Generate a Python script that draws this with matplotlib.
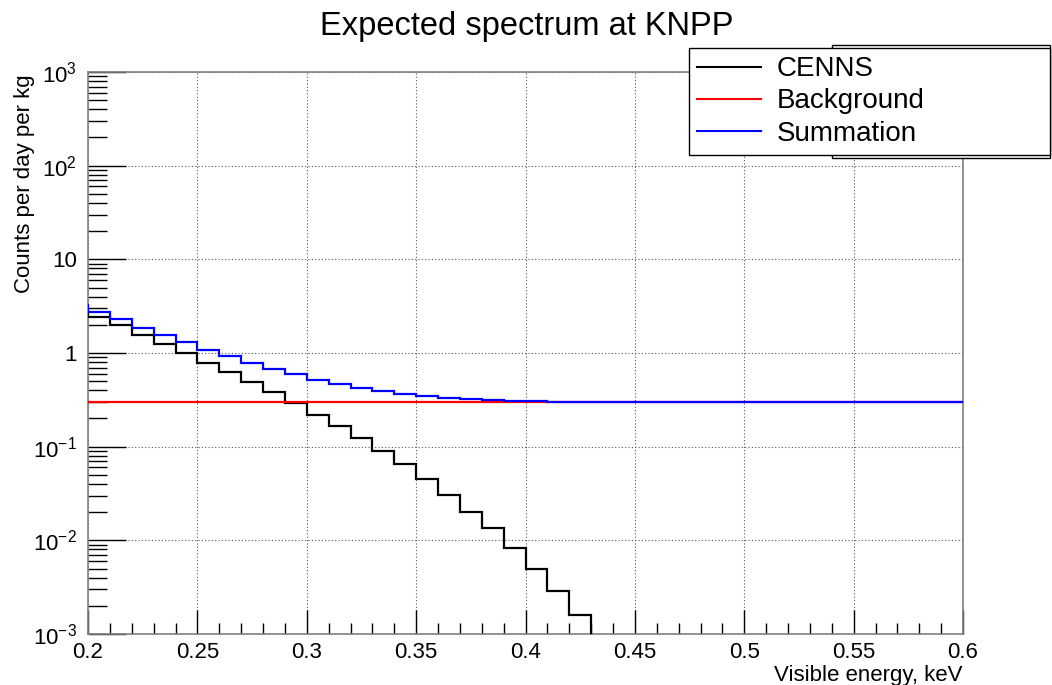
import numpy as np
import matplotlib
matplotlib.use("Agg")
import matplotlib.pyplot as plt
from matplotlib.patches import Rectangle
from matplotlib.ticker import FixedLocator, NullFormatter, FixedFormatter

plt.rcParams['font.family'] = ['Liberation Sans', 'DejaVu Sans']
plt.rcParams['mathtext.fontset'] = 'custom'
plt.rcParams['mathtext.rm'] = 'Liberation Sans'
plt.rcParams['mathtext.it'] = 'Liberation Sans'

# Data (bin edges in keV, width 0.01; first bin 0.19-0.20 lies outside the view)
bin_low = 0.19
bin_width = 0.01
cenns = [2.95, 2.44, 1.98, 1.57, 1.26, 1.00, 0.776, 0.622, 0.486, 0.38, 0.29,
         0.22, 0.165, 0.125, 0.09, 0.065, 0.0449, 0.0305, 0.0202, 0.0134, 0.00836,
         0.005, 0.0029, 0.0016, 0.0009, 0.0005, 0.0003, 0.00017, 0.0001, 6e-5,
         3e-5, 2e-5, 1e-5, 6e-6, 3e-6, 2e-6, 1e-6, 6e-7, 3e-7, 2e-7, 1e-7, 6e-8]
background_level = 0.3

labels = ["CENNS", "Background", "Summation"]
title = "Expected spectrum at KNPP"
xlabel = "Visible energy, keV"
ylabel = "Counts per day per kg"

cenns = np.array(cenns)
edges = bin_low + bin_width * np.arange(len(cenns) + 1)
background = np.full(len(cenns), background_level)
summation = cenns + background

fig = plt.figure(figsize=(10.52, 6.85), dpi=100)
ax = fig.add_axes([88/1052, 1-634/685, (963-88)/1052, (634-72)/685])

ax.stairs(cenns, edges, baseline=None, color='black', lw=1.6, label=labels[0], zorder=3)
ax.stairs(background, edges, baseline=None, color='#ff0000', lw=1.6, label=labels[1], zorder=3)
ax.stairs(summation, edges, baseline=None, color='#0000ff', lw=1.6, label=labels[2], zorder=4)

ax.set_yscale('log')
ax.set_xlim(0.2, 0.6)
ax.set_ylim(1e-3, 1e3)

# x ticks
xmaj = [0.2, 0.25, 0.3, 0.35, 0.4, 0.45, 0.5, 0.55, 0.6]
ax.xaxis.set_major_locator(FixedLocator(xmaj))
ax.xaxis.set_major_formatter(FixedFormatter(["0.2", "0.25", "0.3", "0.35", "0.4", "0.45", "0.5", "0.55", "0.6"]))
ax.xaxis.set_minor_locator(FixedLocator(np.round(np.arange(0.2, 0.6001, 0.01), 3)))
# y ticks
ymaj = [1e-3, 1e-2, 1e-1, 1, 10, 1e2, 1e3]
ax.yaxis.set_major_locator(FixedLocator(ymaj))
ax.yaxis.set_major_formatter(FixedFormatter([r"$10^{-3}$", r"$10^{-2}$", r"$10^{-1}$", "1", "10", r"$10^{2}$", r"$10^{3}$"]))
yminor = [m * 10.0**e for e in range(-3, 3) for m in range(2, 10)]
ax.yaxis.set_minor_locator(FixedLocator(yminor))
ax.yaxis.set_minor_formatter(NullFormatter())

ax.tick_params(axis='both', which='both', direction='in', top=False, right=False,
               labelsize=16, colors='black')
ax.tick_params(axis='x', which='major', length=17, width=1, pad=6)
ax.tick_params(axis='x', which='minor', length=8, width=1)
ax.tick_params(axis='y', which='major', length=27, width=1, pad=8)
ax.tick_params(axis='y', which='minor', length=14, width=1)

ax.grid(True, which='major', color='#555555', linestyle=(0, (1, 2)), linewidth=0.8)
for sp in ax.spines.values():
    sp.set_color('#808080')
    sp.set_linewidth(1.2)

fig.text(527/1052, 1-26/685, title, ha='center', va='center', fontsize=23.5)
fig.text(963/1052, 1-676/685, xlabel, ha='right', va='center', fontsize=16)
fig.text(25/1052, 1-74/685, ylabel, ha='center', va='top', rotation=90, fontsize=16)

# back box behind legend
back = Rectangle((832/1052, 1-158/685), (1050-832)/1052, (158-45)/685,
                 transform=fig.transFigure, facecolor='white',
                 edgecolor='black', lw=1, zorder=5, clip_on=False)
ax.add_artist(back)
leg = ax.legend(loc='center', bbox_to_anchor=(689/1052, 1-155/685, (1050-689)/1052, (155-48)/685),
                bbox_transform=fig.transFigure, mode='expand', fontsize=20,
                frameon=True, fancybox=False, framealpha=1, edgecolor='black',
                handlelength=2.3, handletextpad=0.55, labelspacing=0.22,
                borderpad=0.3, borderaxespad=0)
leg.get_frame().set_linewidth(1)
for line in leg.get_lines():
    line.set_linewidth(1.5)
leg.set_zorder(6)

fig.savefig("out.png", dpi=100)
